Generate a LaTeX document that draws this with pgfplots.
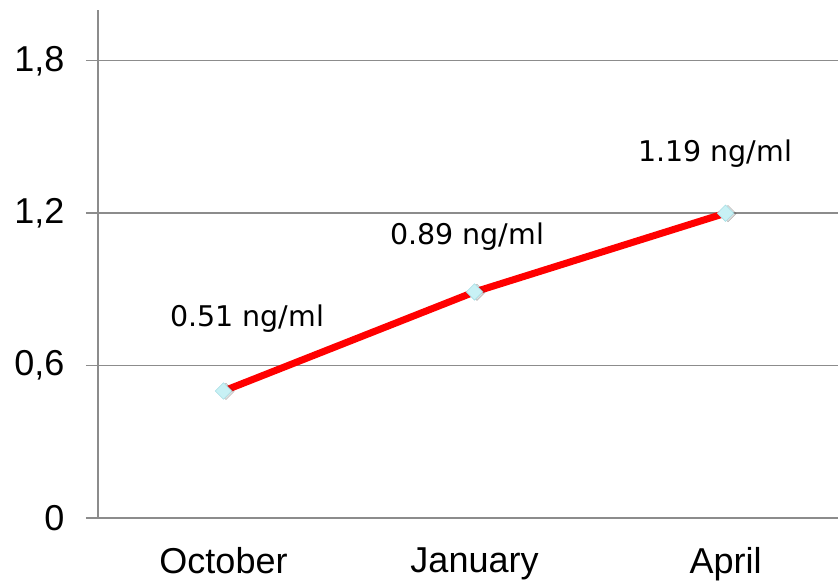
\documentclass[border=0pt]{standalone}
\usepackage{pgfplots}
\pgfplotsset{compat=1.18}
\usetikzlibrary{calc}
\usepackage{fontspec}
\setmainfont{Liberation Sans}
\newfontfamily\labfont{DejaVu Sans}
\definecolor{gridgray}{HTML}{8C8C8C}
\definecolor{mkfill}{HTML}{C8F1F5}
\definecolor{mkdraw}{HTML}{A6DDE3}
\begin{document}
\begin{tikzpicture}
\begin{axis}[
  scale only axis, width=740pt, height=508pt,
  xmin=-0.5, xmax=2.448, ymin=0, ymax=2,
  axis lines*=left,
  axis line style={gridgray, line width=1.4pt, -},
  xtick={0,1,2}, xticklabels={October,January,April},
  ytick={0,0.6,1.2,1.8}, yticklabels={0,{0,6},{1,2},{1,8}},
  ymajorgrids, grid style={gridgray, line width=1.4pt},
  tick align=outside,
  x tick style={draw=none},
  y tick style={gridgray, line width=1.4pt},
  major tick length=12pt,
  extra x ticks={-0.5,0.5,1.5}, extra x tick labels={},
  extra x tick style={grid=none, tick style={draw=gridgray, line width=1.4pt}, major tick length=12pt},
  ticklabel style={font=\fontsize{36}{36}\selectfont, text=black},
  yticklabel style={xshift=-18pt},
  xticklabel style={yshift=-14pt},
  clip=false,
]
\coordinate (BL) at (rel axis cs:0,0);
\coordinate (TR) at (rel axis cs:1,1);
\addplot[draw=none, mark=square*, mark size=5.8pt,
  mark options={rotate=45, fill=gray, draw=none, opacity=0.25, xshift=1.5pt, yshift=-2pt}]
  coordinates {(0,0.5) (1,0.89) (2,1.2)};
\addplot[red, line width=7pt, mark=square*, mark size=5.8pt,
  mark options={rotate=45, fill=mkfill, draw=mkdraw, line width=0.6pt}]
  coordinates {(0,0.5) (1,0.89) (2,1.2)};
\node[font=\labfont\fontsize{28.5}{28.5}\selectfont] at (axis cs:0.094,0.784) {0.51 ng/ml};
\node[font=\labfont\fontsize{28.5}{28.5}\selectfont] at (axis cs:0.97,1.106) {0.89 ng/ml};
\node[font=\labfont\fontsize{28.5}{28.5}\selectfont] at (axis cs:1.958,1.435) {1.19 ng/ml};
\end{axis}
\pgfresetboundingbox
\path ($(BL)+(-98pt,-63pt)$) rectangle ($(TR)+(0pt,10pt)$);
\end{tikzpicture}
\end{document}
